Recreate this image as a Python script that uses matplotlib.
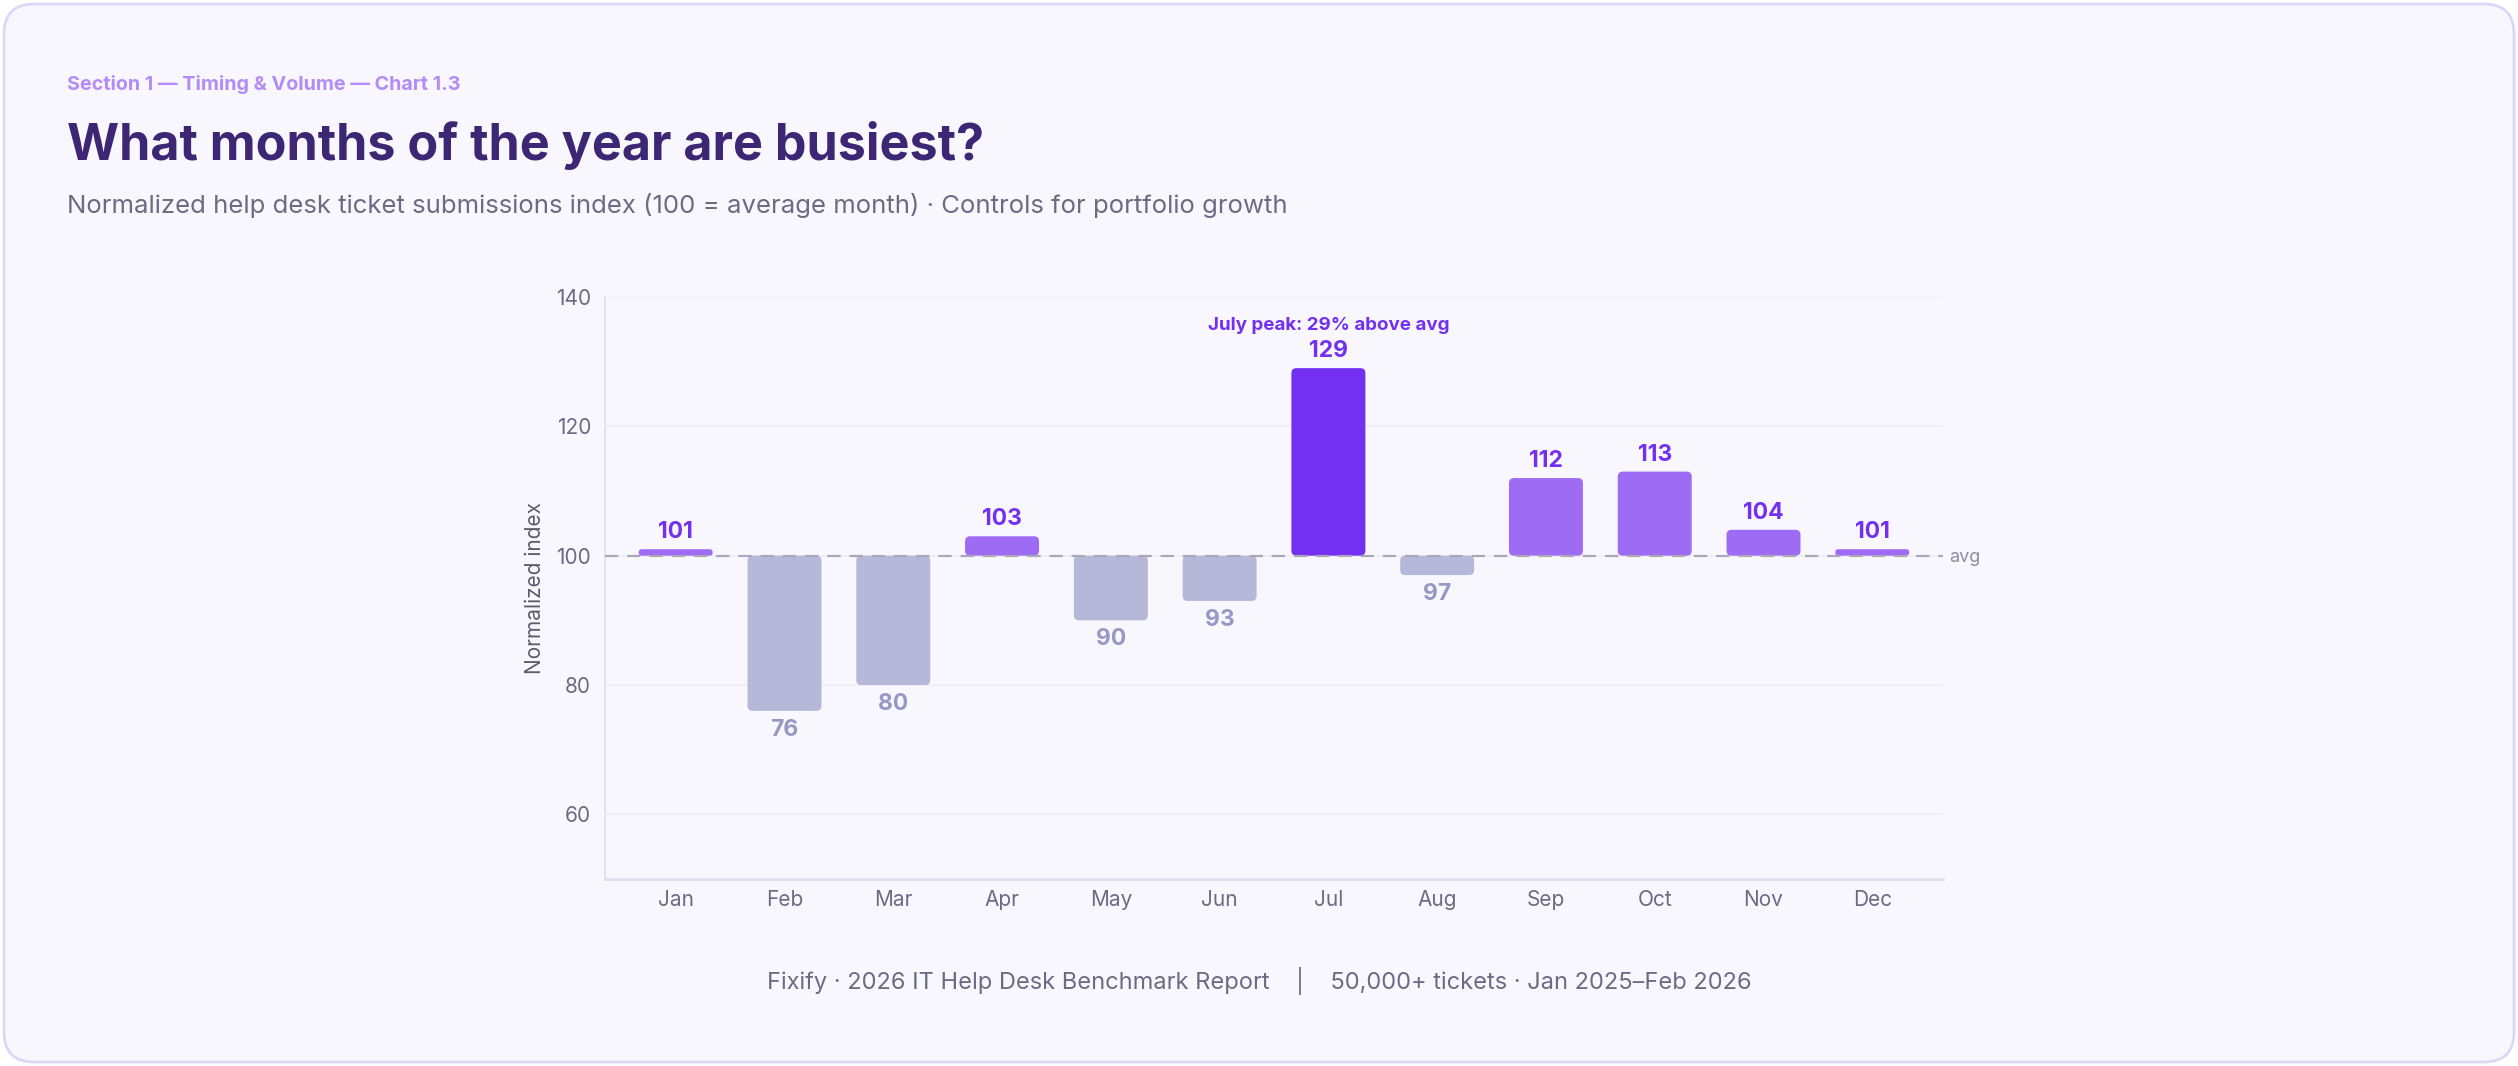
import matplotlib
matplotlib.use("Agg")
import matplotlib.pyplot as plt
from matplotlib.patches import FancyBboxPatch

plt.rcParams['font.family'] = ['Inter', 'DejaVu Sans']

months = ["Jan", "Feb", "Mar", "Apr", "May", "Jun", "Jul", "Aug", "Sep", "Oct", "Nov", "Dec"]
index_values = [101, 76, 80, 103, 90, 93, 129, 97, 112, 113, 104, 101]
baseline = 100
yticks = [60, 80, 100, 120, 140]
peak_note = "July peak: 29% above avg"

W, H = 2518, 1066
DPI = 100
fig = plt.figure(figsize=(W / DPI, H / DPI), dpi=DPI)
fig.patch.set_facecolor("white")

# background card
bg = fig.add_axes([0, 0, 1, 1])
bg.set_xlim(0, W)
bg.set_ylim(0, H)
bg.axis("off")
card = FancyBboxPatch((4, 4), W - 8, H - 8,
                      boxstyle="round,pad=0,rounding_size=30",
                      facecolor="#f9f7fe", edgecolor="#ddd6f6", linewidth=2)
bg.add_patch(card)

# header texts
fig.text(67 / W, 1 - 84 / H, "Section 1 — Timing & Volume — Chart 1.3",
         fontsize=14.2, fontweight="bold", color="#b48cf7", va="center", ha="left")
fig.text(67 / W, 1 - 146 / H, "What months of the year are busiest?",
         fontsize=36.2, fontweight="bold", color="#3d2673", va="center", ha="left")
fig.text(67 / W, 1 - 206 / H,
         "Normalized help desk ticket submissions index (100 = average month) · Controls for portfolio growth",
         fontsize=18.5, color="#6b6b83", va="center", ha="left")
fig.text(0.5, 1 - 981 / H,
         "Fixify · 2026 IT Help Desk Benchmark Report    |    50,000+ tickets · Jan 2025–Feb 2026",
         fontsize=17, color="#6b6b83", va="center", ha="center")

# chart
ax = fig.add_axes([605 / W, 1 - 879 / H, (1943 - 605) / W, (879 - 297) / H])
ax.set_facecolor("none")
ax.set_xlim(-0.65, len(months) - 0.35)
ax.set_ylim(50, 140)

peak_i = index_values.index(max(index_values))
colors = []
for i, v in enumerate(index_values):
    if i == peak_i:
        colors.append("#7330f0")
    elif v >= baseline:
        colors.append("#9d6bf4")
    else:
        colors.append("#b5b8d8")

x = list(range(len(months)))
heights = [v - baseline for v in index_values]
bars = ax.bar(x, heights, bottom=baseline, width=0.68, color=colors, zorder=3)

# replace with rounded bars
x_px = (1943 - 605) / (len(months) + 0.3)
y_px = (879 - 297) / 90.0
r_px = 5
for b, c in zip(bars, colors):
    bx, by, bw, bh = b.get_x(), b.get_y(), b.get_width(), b.get_height()
    if bh < 0:
        by, bh = by + bh, -bh
    r = r_px / x_px
    aspect = x_px / y_px
    max_r = min(bw / 2, bh * y_px / x_px / 2)
    r = min(r, max_r)
    p = FancyBboxPatch((bx, by), bw, bh,
                       boxstyle=f"round,pad=0,rounding_size={r}",
                       mutation_aspect=aspect,
                       facecolor=c, edgecolor="none", zorder=3)
    ax.add_patch(p)
    b.remove()

# baseline
ax.axhline(baseline, color="#a9a7b8", linestyle=(0, (6, 4)), linewidth=1.6, zorder=4)
ax.text(len(months) - 0.35 + 0.06, baseline - 0.3, "avg", fontsize=13, color="#8e8ca0",
        va="center", ha="left", clip_on=False)

# value labels
for i, v in enumerate(index_values):
    if v >= baseline:
        ax.text(i, v + 17 / y_px, str(v), ha="center", va="center", fontsize=16.5,
                fontweight="bold", color="#7330f0", zorder=5)
    else:
        ax.text(i, v - 19 / y_px, str(v), ha="center", va="center", fontsize=16.5,
                fontweight="bold", color="#9599c4", zorder=5)
ax.text(peak_i, index_values[peak_i] + 43 / y_px, peak_note, ha="center", va="center",
        fontsize=13.5, fontweight="bold", color="#7330f0", zorder=5)

# axes styling
ax.set_yticks(yticks)
ax.set_xticks(x)
ax.set_xticklabels(months)
ax.tick_params(axis="both", length=0, labelsize=15, labelcolor="#6b6b83")
ax.tick_params(axis="x", pad=8)
ax.tick_params(axis="y", pad=10)
ax.grid(axis="y", color="#eeecf6", linewidth=1.4, zorder=0)
ax.set_axisbelow(True)
for s in ["top", "right"]:
    ax.spines[s].set_visible(False)
ax.spines["left"].set_color("#e4e2ec")
ax.spines["bottom"].set_color("#e0dee8")
ax.spines["left"].set_linewidth(1.4)
ax.spines["bottom"].set_linewidth(2)
ax.set_ylabel("Normalized index", fontsize=15, color="#5b5b70", labelpad=8)

fig.savefig("out.png", dpi=DPI, facecolor=fig.get_facecolor())
